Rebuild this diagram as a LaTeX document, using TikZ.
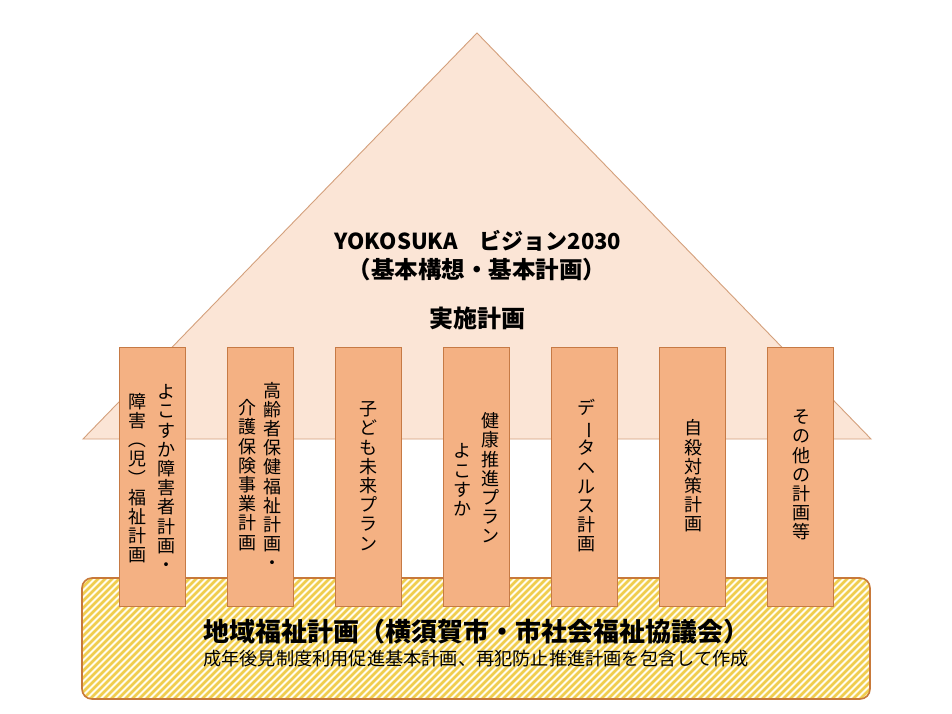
\documentclass[tikz,border=0pt]{standalone}
\usepackage{fontspec}
\usepackage{graphicx}
\setmainfont{Noto Sans CJK JP}
\definecolor{trifill}{HTML}{FBE5D6}
\definecolor{tridraw}{HTML}{D4A07C}
\definecolor{pilfill}{HTML}{F4B183}
\definecolor{pildraw}{HTML}{C67A45}
\definecolor{basedraw}{HTML}{C8793A}
\definecolor{hatch}{HTML}{F0CD4E}
\definecolor{hatchbg}{HTML}{FFFCEE}
\newcommand\vrot[1]{\rotatebox[origin=c]{-90}{#1}}
\tikzset{
  tri/.style={fill=trifill, draw=tridraw, line width=0.9pt, line join=miter},
  pillar/.style={fill=pilfill, draw=pildraw, line width=0.9pt, minimum width=66pt, minimum height=259pt, inner sep=0pt},
  basebox/.style={draw=basedraw, line width=1.6pt, rounded corners=10pt},
  hatchline/.style={draw=hatch, line width=2.6pt},
  vt/.style={align=center, inner sep=0pt, font=\fontsize{18}{19.2}\selectfont},
  ttl/.style={inner sep=0pt, font=\fontsize{22}{26}\selectfont\bfseries},
}
\begin{document}
\begin{tikzpicture}[x=1pt,y=-1pt]
\useasboundingbox[fill=white] (0,0) rectangle (952,714);
% roof
\coordinate (apex) at (477,33);
\coordinate (bl) at (83,439);
\coordinate (br) at (871,439);
\draw[tri] (apex) -- (br) -- (bl) -- cycle;
\node[ttl] (title1) at (478,241) {YOKOSUKA　ビジョン2030};
\node[ttl, font=\fontsize{23.5}{26}\selectfont\bfseries] (title2) at (477,270) {（基本構想・基本計画）};
\node[ttl, font=\fontsize{24}{26}\selectfont\bfseries] (title3) at (477,318) {実施計画};
% foundation
\coordinate (b1) at (82,578);
\coordinate (b2) at (870,699);
\fill[hatchbg, rounded corners=10pt] (b1) rectangle (b2);
\begin{scope}
  \clip[rounded corners=10pt] (b1) rectangle (b2);
  \foreach \i in {-20,...,140} {
    \draw[hatchline] (\i*7,705) -- (\i*7+133,572);
  }
\end{scope}
\draw[basebox] (b1) rectangle (b2);
\node[inner sep=0pt, font=\fontsize{26}{30}\selectfont\bfseries] (bt) at (476,632) {地域福祉計画（横須賀市・市社会福祉協議会）};
\node[inner sep=0pt, font=\fontsize{18.2}{20}\selectfont] (bs) at (476,659) {成年後見制度利用促進基本計画、再犯防止推進計画を包含して作成};
% pillars
\node[pillar] (p1) at (152,476.5) {};
\node[pillar] (p2) at (260,476.5) {};
\node[pillar] (p3) at (368,476.5) {};
\node[pillar] (p4) at (476,476.5) {};
\node[pillar] (p5) at (584,476.5) {};
\node[pillar] (p6) at (692,476.5) {};
\node[pillar] (p7) at (800,476.5) {};
% pillar texts
\node[vt] (t1a) at (166,478) {よ\\こ\\す\\か\\障\\害\\者\\計\\画\\・};
\node[vt] (t1b) at (137,478) {障\\害\\\vrot{（}\\児\\\vrot{）}\\福\\祉\\計\\画};
\node[vt] (t2a) at (272,476) {高\\齢\\者\\保\\健\\福\\祉\\計\\画\\・};
\node[vt] (t2b) at (247,475) {介\\護\\保\\険\\事\\業\\計\\画};
\node[vt] (t3) at (368,476) {子\\ど\\も\\未\\来\\プ\\ラ\\ン};
\node[vt] (t4a) at (490,478) {健\\康\\推\\進\\プ\\ラ\\ン};
\node[vt] (t4b) at (462,480) {よ\\こ\\す\\か};
\node[vt] (t5) at (586,476) {デ\\\vrot{ー}\\タ\\ヘ\\ル\\ス\\計\\画};
\node[vt] (t6) at (693,476) {自\\殺\\対\\策\\計\\画};
\node[vt] (t7) at (801,475) {そ\\の\\他\\の\\計\\画\\等};
\end{tikzpicture}
\end{document}
